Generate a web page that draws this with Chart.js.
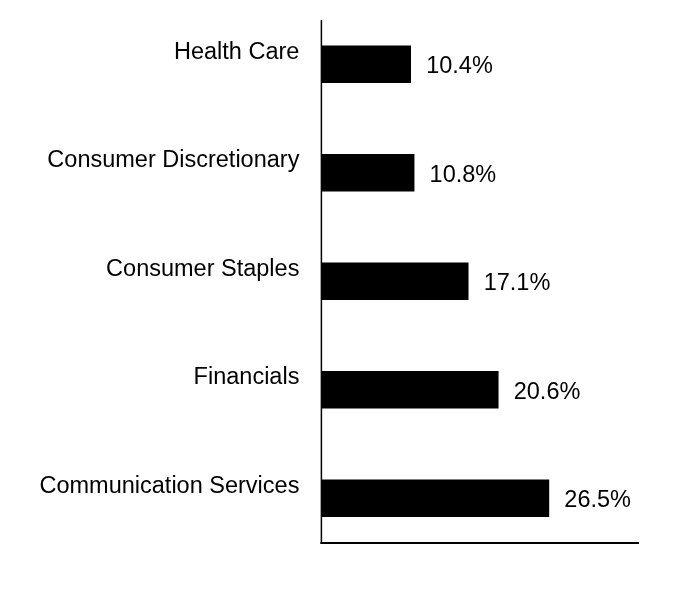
<!DOCTYPE html>
<html>
<head>
<meta charset="utf-8">
<script src="https://cdn.jsdelivr.net/npm/chart.js@4/dist/chart.umd.min.js"></script>
<style>
html,body{margin:0;padding:0;background:#fff;}
canvas{display:block;}
</style>
</head>
<body>
<canvas id="c" width="696" height="612"></canvas>
<script>
const categories = ["Health Care", "Consumer Discretionary", "Consumer Staples", "Financials", "Communication Services"];
const values = [10.4, 10.8, 17.1, 20.6, 26.5];
const valueLabels = ["10.4%", "10.8%", "17.1%", "20.6%", "26.5%"];

const FONT = '23.5px "Liberation Sans", Arial, sans-serif';

const labelPlugin = {
  id: 'labels',
  afterDatasetsDraw(chart) {
    const ctx = chart.ctx;
    const xs = chart.scales.x, ys = chart.scales.y;
    const meta = chart.getDatasetMeta(0);
    ctx.save();
    const x0 = xs.getPixelForValue(0);
    ctx.strokeStyle = '#000';
    ctx.lineWidth = 1.5;
    ctx.beginPath();
    ctx.moveTo(x0, ys.top + 10);
    ctx.lineTo(x0, ys.bottom - 9);
    ctx.stroke();
    ctx.lineWidth = 2;
    ctx.beginPath();
    ctx.moveTo(x0 - 1, ys.bottom - 9.5);
    ctx.lineTo(xs.right, ys.bottom - 9.5);
    ctx.stroke();
    ctx.fillStyle = '#000';
    ctx.font = FONT;
    ctx.textBaseline = 'middle';
    meta.data.forEach((bar, i) => {
      ctx.textAlign = 'right';
      ctx.fillText(categories[i], x0 - 22, bar.y - 12);
      ctx.textAlign = 'left';
      ctx.fillText(valueLabels[i], bar.x + 15.5, bar.y + 2.5);
    });
    ctx.restore();
  }
};

new Chart(document.getElementById('c'), {
  type: 'bar',
  data: {
    labels: categories,
    datasets: [{
      data: values,
      backgroundColor: '#000',
      borderWidth: 0,
      barThickness: 37
    }]
  },
  options: {
    indexAxis: 'y',
    responsive: false,
    animation: false,
    layout: { padding: { top: 10, bottom: 59.5, left: 321.4, right: 57 } },
    plugins: { legend: { display: false }, tooltip: { enabled: false } },
    scales: {
      x: { display: false, min: 0, max: 37 },
      y: { display: false, offset: true }
    }
  },
  plugins: [labelPlugin]
});
</script>
</body>
</html>
